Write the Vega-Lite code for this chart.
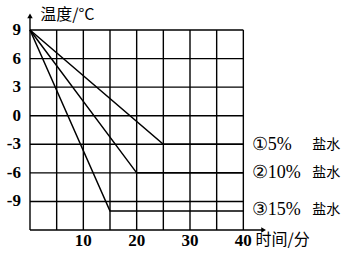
{
  "$schema": "https://vega.github.io/schema/vega-lite/v6.json",
  "width": 240,
  "height": 219,
  "padding": {"left": 30, "top": 11, "right": 79, "bottom": 26},
  "autosize": {"type": "none"},
  "config": {"view": {"stroke": null}},
  "datasets": {
    "grid": [
      {"x": 5, "y": -12, "x2": 5, "y2": 9},
      {"x": 10, "y": -12, "x2": 10, "y2": 9},
      {"x": 15, "y": -12, "x2": 15, "y2": 9},
      {"x": 20, "y": -12, "x2": 20, "y2": 9},
      {"x": 25, "y": -12, "x2": 25, "y2": 9},
      {"x": 30, "y": -12, "x2": 30, "y2": 9},
      {"x": 35, "y": -12, "x2": 35, "y2": 9},
      {"x": 40, "y": -12, "x2": 40, "y2": 9},
      {"x": 0, "y": 9, "x2": 40, "y2": 9},
      {"x": 0, "y": 6, "x2": 40, "y2": 6},
      {"x": 0, "y": 3, "x2": 40, "y2": 3},
      {"x": 0, "y": 0, "x2": 40, "y2": 0},
      {"x": 0, "y": -3, "x2": 40, "y2": -3},
      {"x": 0, "y": -6, "x2": 40, "y2": -6},
      {"x": 0, "y": -9, "x2": 40, "y2": -9},
      {"x": 0, "y": -12, "x2": 43.5, "y2": -12},
      {"x": 0, "y": -12, "x2": 0, "y2": 10.4}
    ],
    "series": [
      {"s": "①", "t": 0, "v": 9},
      {"s": "①", "t": 25, "v": -3},
      {"s": "①", "t": 40, "v": -3},
      {"s": "②", "t": 0, "v": 9},
      {"s": "②", "t": 20, "v": -6},
      {"s": "②", "t": 40, "v": -6},
      {"s": "③", "t": 0, "v": 9},
      {"s": "③", "t": 15, "v": -10},
      {"s": "③", "t": 40, "v": -10}
    ],
    "yticks": [
      {"x": -1.7, "y": 9, "text": "9"},
      {"x": -1.7, "y": 6, "text": "6"},
      {"x": -1.7, "y": 3, "text": "3"},
      {"x": -1.7, "y": 0, "text": "0"},
      {"x": -1.7, "y": -3, "text": "-3"},
      {"x": -1.7, "y": -6, "text": "-6"},
      {"x": -1.7, "y": -9, "text": "-9"}
    ],
    "xticks": [
      {"x": 10, "y": -13.2, "text": "10"},
      {"x": 20, "y": -13.2, "text": "20"},
      {"x": 30, "y": -13.2, "text": "30"},
      {"x": 40, "y": -13.2, "text": "40"}
    ],
    "labels": [
      {"x": 41.6, "y": -3.1, "text": "①5%"},
      {"x": 41.6, "y": -6, "text": "②10%"},
      {"x": 41.6, "y": -9.9, "text": "③15%"}
    ],
    "salt": [
      {"x": 52.9, "y": -3.1, "text": "盐水"},
      {"x": 52.9, "y": -6, "text": "盐水"},
      {"x": 52.9, "y": -9.9, "text": "盐水"}
    ],
    "arrows": [
      {"x": 0, "y": 10.5, "shape": "triangle-up"},
      {"x": 43.8, "y": -12, "shape": "triangle-right"}
    ],
    "titles": [
      {"x": 1.9, "y": 10.6, "text": "温度/°C"},
      {"x": 42.3, "y": -13.1, "text": "时间/分"}
    ]
  },
  "layer": [
    {
      "data": {"name": "grid"},
      "mark": {"type": "rule", "color": "black", "strokeWidth": 1.4},
      "encoding": {
        "x": {"field": "x", "type": "quantitative", "scale": {"domain": [0, 45], "nice": false, "zero": false}, "axis": null},
        "y": {"field": "y", "type": "quantitative", "scale": {"domain": [-12, 11], "nice": false, "zero": false}, "axis": null},
        "x2": {"field": "x2"},
        "y2": {"field": "y2"}
      }
    },
    {
      "data": {"name": "series"},
      "mark": {"type": "line", "color": "black", "strokeWidth": 1.5},
      "encoding": {
        "x": {"field": "t", "type": "quantitative", "axis": null},
        "y": {"field": "v", "type": "quantitative", "axis": null},
        "detail": {"field": "s"}
      }
    },
    {
      "data": {"name": "arrows"},
      "mark": {"type": "point", "filled": true, "color": "black", "size": 30, "opacity": 1},
      "encoding": {
        "x": {"field": "x", "type": "quantitative", "axis": null},
        "y": {"field": "y", "type": "quantitative", "axis": null},
        "shape": {"field": "shape", "type": "nominal", "scale": null}
      }
    },
    {
      "data": {"name": "yticks"},
      "mark": {"type": "text", "align": "right", "baseline": "middle", "font": "Liberation Serif", "fontWeight": "bold", "fontSize": 17, "color": "black"},
      "encoding": {
        "x": {"field": "x", "type": "quantitative", "axis": null},
        "y": {"field": "y", "type": "quantitative", "axis": null},
        "text": {"field": "text"}
      }
    },
    {
      "data": {"name": "xticks"},
      "mark": {"type": "text", "align": "center", "baseline": "middle", "font": "Liberation Serif", "fontWeight": "bold", "fontSize": 17, "color": "black"},
      "encoding": {
        "x": {"field": "x", "type": "quantitative", "axis": null},
        "y": {"field": "y", "type": "quantitative", "axis": null},
        "text": {"field": "text"}
      }
    },
    {
      "data": {"name": "labels"},
      "mark": {"type": "text", "align": "left", "baseline": "middle", "font": "Liberation Serif", "fontSize": 18, "color": "black"},
      "encoding": {
        "x": {"field": "x", "type": "quantitative", "axis": null},
        "y": {"field": "y", "type": "quantitative", "axis": null},
        "text": {"field": "text"}
      }
    },
    {
      "data": {"name": "salt"},
      "mark": {"type": "text", "align": "left", "baseline": "middle", "font": "Noto Sans CJK SC", "fontSize": 14, "color": "black"},
      "encoding": {
        "x": {"field": "x", "type": "quantitative", "axis": null},
        "y": {"field": "y", "type": "quantitative", "axis": null},
        "text": {"field": "text"}
      }
    },
    {
      "data": {"name": "titles"},
      "mark": {"type": "text", "align": "left", "baseline": "middle", "font": "Noto Sans CJK SC", "fontSize": 16, "color": "black"},
      "encoding": {
        "x": {"field": "x", "type": "quantitative", "axis": null},
        "y": {"field": "y", "type": "quantitative", "axis": null},
        "text": {"field": "text"}
      }
    }
  ]
}
